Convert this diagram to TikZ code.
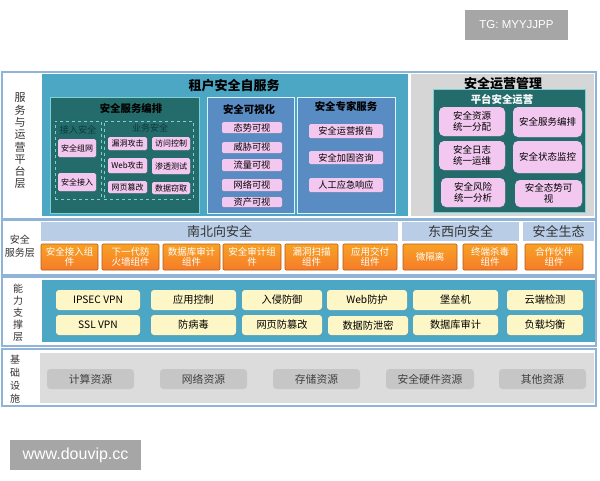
\documentclass[tikz,border=0pt]{standalone}
\usepackage{fontspec}
\setmainfont{Noto Sans CJK SC}
\newfontfamily\wmfont{Liberation Sans}
\usetikzlibrary{shadows}
\definecolor{layerline}{HTML}{8FB4D8}
\definecolor{tealbg}{HTML}{4CA7C4}
\definecolor{darkteal}{HTML}{246C6C}
\definecolor{steel}{HTML}{5A8CC4}
\definecolor{pinkc}{HTML}{F3C8F0}
\definecolor{opsgray}{HTML}{D6D6D6}
\definecolor{bandc}{HTML}{B9CDE6}
\definecolor{orangec}{HTML}{F58A2E}
\definecolor{orangedk}{HTML}{B85A14}
\definecolor{yellowc}{HTML}{FDF6C6}
\definecolor{infrabg}{HTML}{DCDCDC}
\definecolor{pillc}{HTML}{C6C6C6}
\definecolor{wmgray}{HTML}{A6A6A6}
\definecolor{dashc}{HTML}{7FD0D0}
\definecolor{subtxt}{HTML}{0E3A3A}
\newcommand\placebox[7]{\node[#1,minimum width={(#4)-(#2)},minimum height={(#5)-(#3)}] (#6) at ({((#2)+(#4))/2},{((#3)+(#5))/2}) {#7};}
\begin{document}
\begin{tikzpicture}[x=1pt,y=-1pt,
  every node/.style={inner sep=0pt,outer sep=0pt},
  layer/.style={draw=layerline,line width=1.4pt,fill=white},
  tealreg/.style={fill=tealbg},
  opsreg/.style={fill=opsgray},
  darkbox/.style={fill=darkteal,draw=dashc,line width=0.8pt},
  bluebox/.style={fill=steel,draw=white!85!cyan,line width=0.8pt},
  dashbox/.style={draw=dashc,dashed,line width=0.5pt},
  shad/.style={drop shadow={shadow xshift=0.7pt,shadow yshift=-0.7pt,opacity=0.35}},
  pinkbox/.style={shad,fill=pinkc,rounded corners=1.5pt,font=\fontsize{8}{9}\selectfont,align=center},
  pinkbig/.style={shad,fill=pinkc,rounded corners=5pt,font=\fontsize{9.5}{11}\selectfont,align=center},
  pinkpill/.style={shad,fill=pinkc,rounded corners=1.5pt,font=\fontsize{9.2}{10}\selectfont},
  bandbox/.style={fill=bandc,font=\fontsize{13}{14}\selectfont,text=black!80},
  orangebox/.style={top color=orangec!80!yellow,bottom color=orangec!90!red,draw=orangedk,line width=0.6pt,rounded corners=1pt,font=\fontsize{9.5}{10.5}\selectfont,text=white,align=center},
  yellowbox/.style={shad,fill=yellowc,rounded corners=3pt,font=\fontsize{10.2}{11}\selectfont},
  graypill/.style={fill=pillc,rounded corners=3.5pt,font=\fontsize{10.8}{11}\selectfont,text=black!75},
  sidelbl/.style={font=\fontsize{11}{12.3}\selectfont,align=center,text=black!80},
  wmark/.style={fill=wmgray,text=white,font=\wmfont\fontsize{11.5}{12}\selectfont}
]
\useasboundingbox (0,0) rectangle (600,480);
% watermarks
\placebox{wmark}{465}{10}{568}{40}{wm1}{TG: MYYJJPP}
\placebox{wmark,font=\wmfont\fontsize{16}{17}\selectfont}{10}{440}{141}{470}{wm2}{www.douvip.cc}

% ===== layer 1 =====
\placebox{layer}{2}{72}{596}{219}{L1}{}
\placebox{tealreg}{42}{74}{408}{216}{tenant}{}
\node[font=\bfseries\fontsize{13}{14}\selectfont] (tenantT) at (234,86) {租户安全自服务};
\node[sidelbl] (L1lbl) at (20,141) {服\\务\\与\\运\\营\\平\\台\\层};

\placebox{darkbox}{50}{97}{199}{213}{orch}{}
\node[font=\bfseries\fontsize{10.4}{11}\selectfont] (orchT) at (131,109) {安全服务编排};
\placebox{dashbox}{55}{121}{101}{199}{accsec}{}
\node[font=\fontsize{9.2}{10}\selectfont,text=subtxt] (accsecT) at (78,130) {接入安全};
\placebox{pinkbox}{58}{139}{96}{157}{p1}{安全组网}
\placebox{pinkbox}{58}{173}{96}{191}{p2}{安全接入}
\placebox{dashbox}{104}{121}{193}{199}{bizsec}{}
\node[font=\fontsize{9}{10}\selectfont,text=subtxt] (bizsecT) at (150,128) {业务安全};
\placebox{pinkbox}{108}{137}{147}{150}{p3}{漏洞攻击}
\placebox{pinkbox}{152}{137}{190}{150}{p4}{访问控制}
\placebox{pinkbox}{108}{158}{147}{173}{p5}{Web攻击}
\placebox{pinkbox}{152}{158}{190}{174}{p6}{渗透测试}
\placebox{pinkbox}{108}{181}{147}{193}{p7}{网页篡改}
\placebox{pinkbox}{152}{182}{190}{194}{p8}{数据窃取}

\placebox{bluebox}{207}{97}{294}{213}{vis}{}
\node[font=\bfseries\fontsize{10.4}{11}\selectfont] (visT) at (249,110) {安全可视化};
\placebox{pinkpill}{222}{122}{282}{133}{v1}{态势可视}
\placebox{pinkpill}{222}{142}{282}{153}{v2}{威胁可视}
\placebox{pinkpill}{222}{159}{282}{171}{v3}{流量可视}
\placebox{pinkpill}{222}{179}{282}{191}{v4}{网络可视}
\placebox{pinkpill}{222}{197}{282}{207}{v5}{资产可视}

\placebox{bluebox}{297}{97}{395}{213}{exp}{}
\node[font=\bfseries\fontsize{10.4}{11}\selectfont] (expT) at (346,107) {安全专家服务};
\placebox{pinkpill}{309}{124}{383}{138}{e1}{安全运营报告}
\placebox{pinkpill}{309}{151}{383}{164}{e2}{安全加固咨询}
\placebox{pinkpill}{309}{178}{383}{192}{e3}{人工应急响应}

\placebox{opsreg}{411}{74}{594}{216}{ops}{}
\node[font=\bfseries\fontsize{13}{14}\selectfont] (opsT) at (503,84) {安全运营管理};
\placebox{darkbox}{433}{89}{585}{212}{plat}{}
\node[font=\bfseries\fontsize{10.4}{11}\selectfont,text=white] (platT) at (502,99) {平台安全运营};
\placebox{pinkbig}{439}{107}{505}{136}{o1}{安全资源\\统一分配}
\placebox{pinkbig}{513}{107}{582}{137}{o2}{安全服务编排}
\placebox{pinkbig}{439}{141}{505}{170}{o3}{安全日志\\统一运维}
\placebox{pinkbig}{513}{141}{582}{173}{o4}{安全状态监控}
\placebox{pinkbig}{441}{178}{505}{207}{o5}{安全风险\\统一分析}
\placebox{pinkbig}{515}{180}{582}{207}{o6}{安全态势可\\视}

% ===== layer 2 =====
\placebox{layer}{2}{220}{596}{275}{L2}{}
\node[sidelbl,font=\fontsize{10}{13}\selectfont] (L2lbl) at (20,246) {安全\\服务层};
\placebox{bandbox}{41}{222}{398}{241}{nsband}{南北向安全}
\placebox{bandbox}{402}{222}{519}{241}{ewband}{东西向安全}
\placebox{bandbox}{523}{222}{594}{241}{ecoband}{安全生态}
\placebox{orangebox}{41}{244}{98}{270}{c1}{安全接入组\\件}
\placebox{orangebox}{102}{244}{159}{270}{c2}{下一代防\\火墙组件}
\placebox{orangebox}{163}{244}{220}{270}{c3}{数据库审计\\组件}
\placebox{orangebox}{223}{244}{281}{270}{c4}{安全审计组\\件}
\placebox{orangebox}{285}{244}{338}{270}{c5}{漏洞扫描\\组件}
\placebox{orangebox}{343}{244}{397}{270}{c6}{应用交付\\组件}
\placebox{orangebox}{403}{244}{457}{270}{c7}{微隔离}
\placebox{orangebox}{463}{244}{517}{270}{c8}{终端杀毒\\组件}
\placebox{orangebox}{525}{244}{583}{270}{c9}{合作伙伴\\组件}

% ===== layer 3 =====
\placebox{layer}{2}{277}{596}{346}{L3}{}
\node[sidelbl,font=\fontsize{10}{12}\selectfont] (L3lbl) at (18,313) {能\\力\\支\\撑\\层};
\placebox{tealreg}{42}{280}{595}{342}{cap}{}
\placebox{yellowbox}{56}{290}{140}{310}{y1}{IPSEC VPN}
\placebox{yellowbox}{56}{315}{140}{335}{y2}{SSL VPN}
\placebox{yellowbox}{151}{290}{236}{310}{y3}{应用控制}
\placebox{yellowbox}{151}{315}{236}{335}{y4}{防病毒}
\placebox{yellowbox}{242}{290}{322}{310}{y5}{入侵防御}
\placebox{yellowbox}{242}{315}{322}{335}{y6}{网页防篡改}
\placebox{yellowbox}{327}{290}{407}{310}{y7}{Web防护}
\placebox{yellowbox}{328}{316}{408}{335}{y8}{数据防泄密}
\placebox{yellowbox}{413}{290}{498}{310}{y9}{堡垒机}
\placebox{yellowbox}{413}{315}{498}{335}{y10}{数据库审计}
\placebox{yellowbox}{507}{290}{583}{310}{y11}{云端检测}
\placebox{yellowbox}{507}{315}{583}{335}{y12}{负载均衡}

% ===== layer 4 =====
\placebox{layer}{2}{349}{596}{406}{L4}{}
\node[sidelbl,font=\fontsize{10}{13}\selectfont] (L4lbl) at (15,379) {基\\础\\设\\施};
\placebox{fill=infrabg}{40}{353}{594}{403}{infra}{}
\placebox{graypill}{47}{369}{134}{389}{g1}{计算资源}
\placebox{graypill}{160}{369}{247}{389}{g2}{网络资源}
\placebox{graypill}{273}{369}{360}{389}{g3}{存储资源}
\placebox{graypill}{386}{369}{474}{389}{g4}{安全硬件资源}
\placebox{graypill}{499}{369}{586}{389}{g5}{其他资源}
\end{tikzpicture}
\end{document}
